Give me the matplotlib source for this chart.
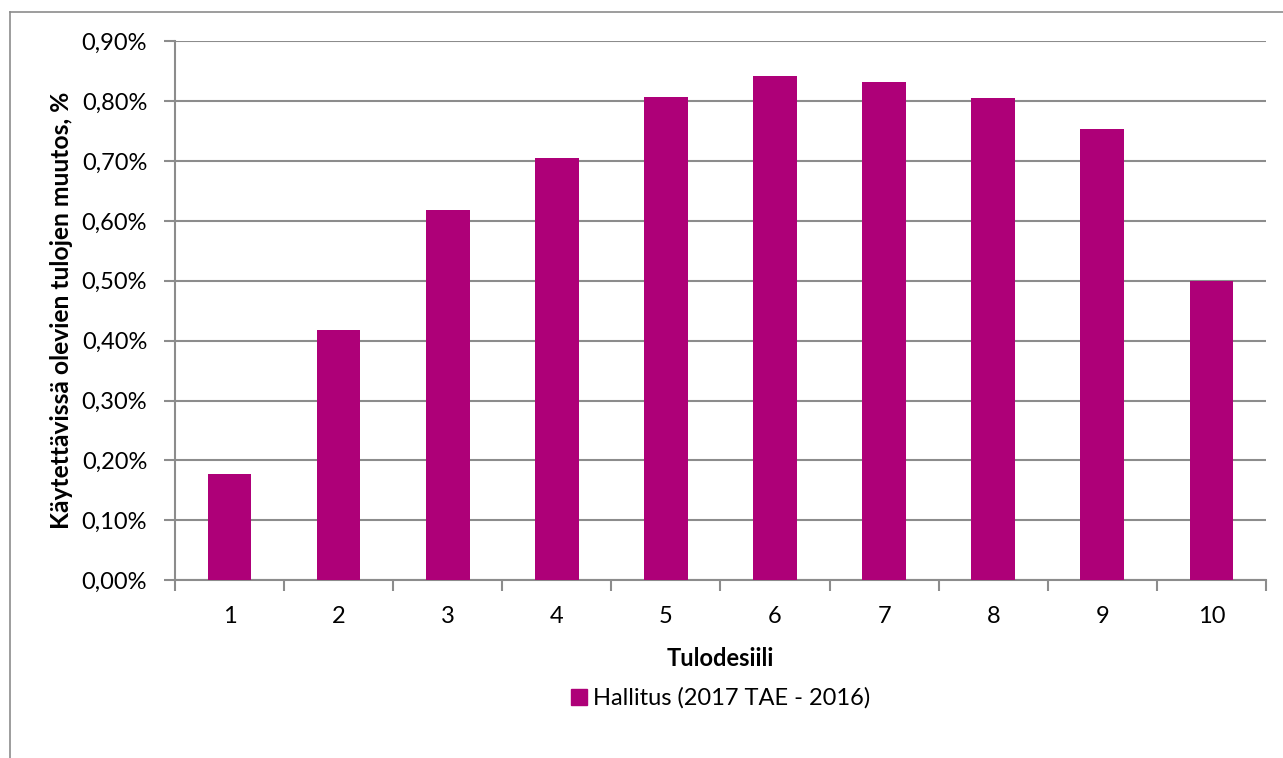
import matplotlib.pyplot as plt
from matplotlib.lines import Line2D
from matplotlib.ticker import FuncFormatter, MultipleLocator

plt.rcParams['font.family'] = ['Lato', 'DejaVu Sans']

# tulodesiilit ja käytettävissä olevien tulojen muutos (%)
desiilit = [1, 2, 3, 4, 5, 6, 7, 8, 9, 10]
muutos = [0.177, 0.417, 0.618, 0.706, 0.808, 0.843, 0.833, 0.806, 0.753, 0.499]
sarja = 'Hallitus (2017 TAE - 2016)'

vari = '#AE0078'
harmaa = '#8C8C8C'

fig = plt.figure(figsize=(12.83, 7.58), dpi=100)
ax = fig.add_axes([0.1364, 0.2348, 0.8503, 0.7105])

ax.bar(desiilit, muutos, width=0.4, color=vari, zorder=3)

ax.set_xlim(0.5, 10.5)
ax.set_ylim(0, 0.9)
ax.yaxis.set_major_locator(MultipleLocator(0.1))
ax.yaxis.set_major_formatter(FuncFormatter(lambda v, p: f'{v:.2f}%'.replace('.', ',')))
ax.set_xticks(desiilit)
ax.set_xticks([d + 0.5 for d in range(0, 11)], minor=True)
ax.tick_params(axis='x', which='major', length=0, pad=19, labelsize=17)
ax.tick_params(axis='x', which='minor', length=8, color=harmaa, width=1.5)
ax.tick_params(axis='y', length=8, color=harmaa, width=1.5, pad=12, labelsize=17)

ax.grid(axis='y', color=harmaa, linewidth=1.5, zorder=0)
for s in ['top', 'right']:
    ax.spines[s].set_visible(False)
for s in ['left', 'bottom']:
    ax.spines[s].set_color(harmaa)
    ax.spines[s].set_linewidth(1.5)

ax.set_xlabel('Tulodesiili', fontsize=17, fontweight='bold', labelpad=14)
ax.set_ylabel('Käytettävissä olevien tulojen muutos, %', fontsize=17.7,
              fontweight='bold', labelpad=6)

handle = Line2D([], [], marker='s', linestyle='none', markersize=11,
                markerfacecolor=vari, markeredgecolor=vari)
fig.legend([handle], [sarja], loc='center', bbox_to_anchor=(0.5604, 0.079),
           frameon=False, fontsize=17, handletextpad=0.1, handlelength=1.0)

# kehys kuvan ylä- ja vasempaan reunaan
fig.add_artist(Line2D([10 / 1283, 1], [1 - 12 / 758] * 2, color=harmaa, lw=1.2,
                      transform=fig.transFigure))
fig.add_artist(Line2D([10 / 1283] * 2, [0, 1 - 12 / 758], color=harmaa, lw=1.2,
                      transform=fig.transFigure))

fig.savefig('out.png', dpi=100)
